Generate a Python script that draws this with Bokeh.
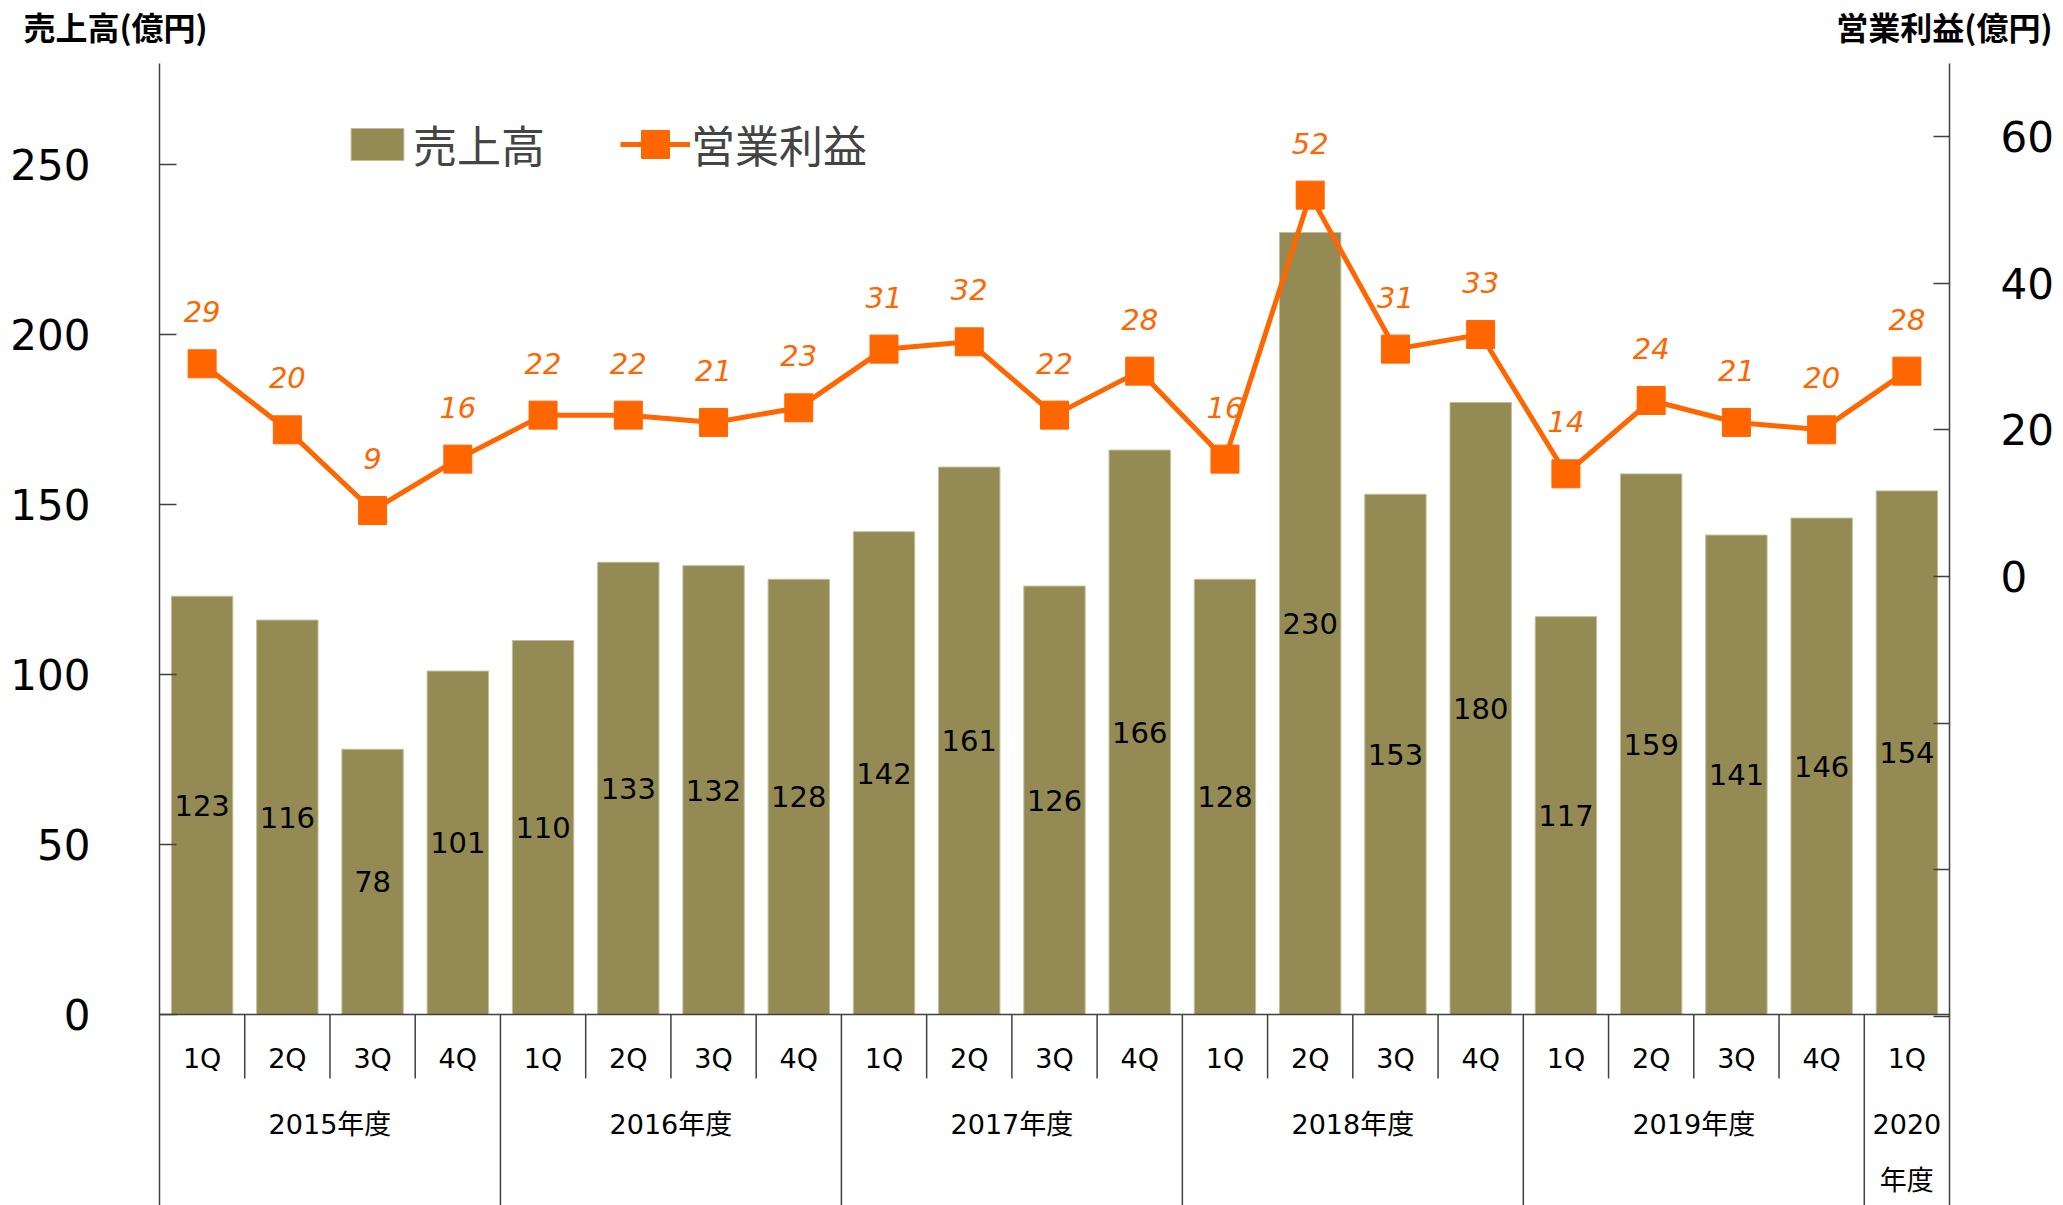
from bokeh.plotting import figure
from bokeh.models import (FactorRange, Range1d, LinearAxis, FixedTicker, Span,
                          Legend, Title, ColumnDataSource)
from bokeh.core.properties import value
from bokeh.embed import file_html
from bokeh.resources import INLINE

# ---------------- data ----------------
fiscal_years = ["2015年度", "2016年度", "2017年度", "2018年度", "2019年度", "2020年度"]
year_labels = ["2015年度", "2016年度", "2017年度", "2018年度", "2019年度", "2020\n年度"]
quarter_names = ["1Q", "2Q", "3Q", "4Q"]

sales = [123, 116, 78, 101, 110, 133, 132, 128, 142, 161, 126, 166,
         128, 230, 153, 180, 117, 159, 141, 146, 154]
op_profit = [29, 20, 9, 16, 22, 22, 21, 23, 31, 32, 22, 28,
             16, 52, 31, 33, 14, 24, 21, 20, 28]

left_ticks = [0, 50, 100, 150, 200, 250]
right_ticks = [-60, -40, -20, 0, 20, 40, 60]
right_tick_labels = ["", "", "", "0", "20", "40", "60"]

sales_name = "売上高"
profit_name = "営業利益"
left_title = "売上高(億円)"
right_title = "営業利益(億円)"

# ---------------- styling ----------------
BAR = "#948A54"
ORANGE = "#FF6600"
AXIS = "#404040"
NUM = "DejaVu Sans"
MIX = "DejaVu Sans, Noto Sans CJK JP"
CJK = "Noto Sans CJK JP"

factors = [(y, q) for y in fiscal_years for q in quarter_names][:len(sales)]
n = len(factors)

src = ColumnDataSource(dict(
    x=factors,
    sales=sales,
    half=[s / 2 for s in sales],
    sales_txt=[str(s) for s in sales],
    profit=op_profit,
    profit_txt=[str(v) for v in op_profit],
    quarter=[f[1] for f in factors],
))

xr = FactorRange(*factors, factor_padding=0, group_padding=0,
                 subgroup_padding=0, range_padding=0)

Y0, Y1 = -56.18, 279.7
p = figure(width=2063, height=1205, x_range=xr, y_range=Range1d(Y0, Y1),
           output_backend="svg", toolbar_location=None, x_axis_location=None,
           min_border_left=159, min_border_right=114, min_border_top=63,
           min_border_bottom=0, outline_line_color=None)
p.title.visible = False
p.extra_y_ranges = {"right": Range1d(-85.77, 69.95)}
p.grid.visible = False
p.background_fill_color = "white"
p.border_fill_color = "white"

# titles above both axes: a blank spacer next to the frame, then two
# zero-height title panels that sit side by side at the same height
p.add_layout(Title(text=" ", standoff=-8, text_font=CJK, text_font_size="30px"), "above")
p.add_layout(Title(text=left_title, align="left", offset=-136, vertical_align="middle",
                   standoff=-48, text_font=CJK, text_font_style="bold",
                   text_font_size="32px", text_color="#000000"), "above")
p.add_layout(Title(text=right_title, align="right", offset=-103, vertical_align="middle",
                   standoff=-48, text_font=CJK, text_font_style="bold",
                   text_font_size="32px", text_color="#000000"), "above")

# left axis
ya = p.yaxis[0]
ya.ticker = FixedTicker(ticks=left_ticks)
ya.major_tick_in = 17
ya.major_tick_out = 0
ya.minor_tick_line_color = None
ya.axis_line_color = AXIS
ya.axis_line_width = 1.5
ya.major_tick_line_color = AXIS
ya.major_tick_line_width = 1.5
ya.major_label_text_font = NUM
ya.major_label_text_font_size = "42px"
ya.major_label_text_color = "#000000"
ya.major_label_standoff = 69

# right axis
ra = LinearAxis(y_range_name="right", ticker=FixedTicker(ticks=right_ticks),
                major_label_overrides={t: l for t, l in zip(right_ticks, right_tick_labels)})
ra.major_tick_in = 16
ra.major_tick_out = 0
ra.minor_tick_line_color = None
ra.axis_line_color = AXIS
ra.axis_line_width = 1.5
ra.major_tick_line_color = AXIS
ra.major_tick_line_width = 1.5
ra.major_label_text_font = NUM
ra.major_label_text_font_size = "42px"
ra.major_label_text_color = "#000000"
ra.major_label_standoff = 51
p.add_layout(ra, "right")

# bars
bars = p.vbar(x="x", top="sales", bottom=0, width=0.72, source=src,
              fill_color=BAR, line_color="#C4BD97", line_width=1)

# baseline
p.add_layout(Span(location=0, dimension="width", line_color=AXIS, line_width=1.5))

# separators under the axis (category boundaries)
q_bounds = [i for i in range(1, n) if factors[i][0] == factors[i - 1][0]]
y_bounds = [i for i in range(1, n) if factors[i][0] != factors[i - 1][0]]
p.segment(x0=q_bounds, x1=q_bounds, y0=0, y1=-18.8, line_color=AXIS, line_width=1.5)
p.segment(x0=y_bounds, x1=y_bounds, y0=0, y1=Y0, line_color=AXIS, line_width=1.5)

# line + markers
line = p.line(x="x", y="profit", y_range_name="right", source=src,
              line_color=ORANGE, line_width=5)
marks = p.scatter(x="x", y="profit", y_range_name="right", source=src,
                  marker="square", size=28, fill_color=ORANGE, line_color=ORANGE)

# value labels
p.text(x="x", y="half", text="sales_txt", source=src, text_align="center",
       text_baseline="middle", text_font=value(NUM), text_font_size="29px",
       text_color="#000000")
p.text(x="x", y="profit", text="profit_txt", y_range_name="right", source=src,
       y_offset=-52, text_align="center", text_baseline="middle",
       text_font=value(NUM), text_font_style="italic", text_font_size="29px",
       text_color=ORANGE)

# category labels
p.text(x="x", y=-12.9, text="quarter", source=src, text_align="center",
       text_baseline="middle", text_font=value(NUM), text_font_size="27px",
       text_color="#000000")
p.text(x=fiscal_years, y=-27.9, text=year_labels, text_align="center",
       text_baseline="top", text_font=value(MIX), text_font_size="27px",
       text_line_height=1.78, text_color="#000000")

# legends
leg1 = Legend(items=[(sales_name, [bars])], location=(185, 1029),
              orientation="horizontal", glyph_width=66, glyph_height=40,
              label_standoff=3, label_text_font=MIX, label_text_font_size="44px",
              padding=0, margin=0, border_line_color=None, background_fill_alpha=0)
leg2 = Legend(items=[(profit_name, [line, marks])], location=(461, 1026),
              orientation="horizontal", glyph_width=70, glyph_height=70,
              label_standoff=1, label_text_font=MIX, label_text_font_size="44px",
              padding=0, margin=0, border_line_color=None, background_fill_alpha=0)
p.add_layout(leg1)
p.add_layout(leg2)

open("out.html", "w").write(file_html(p, INLINE))
